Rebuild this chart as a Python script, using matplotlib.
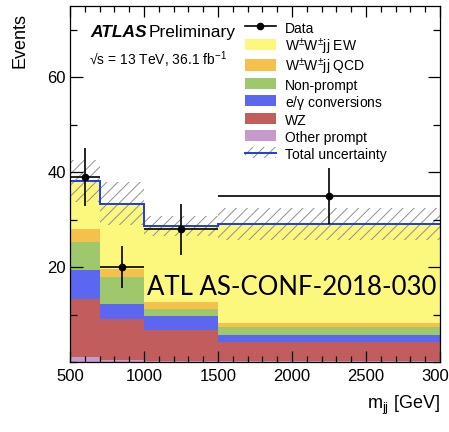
import numpy as np
import matplotlib
matplotlib.use('Agg')
import matplotlib.pyplot as plt
from matplotlib.patches import Patch, Rectangle
from matplotlib.lines import Line2D
from matplotlib.legend_handler import HandlerPatch
from matplotlib.ticker import MultipleLocator

plt.rcParams['font.family'] = ['Liberation Sans', 'DejaVu Sans']
plt.rcParams['mathtext.default'] = 'regular'
plt.rcParams['hatch.linewidth'] = 0.7

# m_jj bin edges [GeV]
edges = [500, 700, 1000, 1500, 3000]

# stacked backgrounds / signal, events per bin (bottom -> top)
other_prompt = [1.1, 0.6, 0.4, 0.3]
wz = [12.3, 8.6, 6.4, 4.0]
conversions = [6.0, 3.2, 2.9, 1.5]
non_prompt = [6.0, 5.5, 1.6, 1.6]
ssww_qcd = [2.7, 1.8, 1.4, 0.8]
ssww_ew = [10.1, 13.7, 16.0, 20.9]
total_unc = [4.5, 4.5, 2.1, 3.3]

# data
data_x = [600, 850, 1250, 2250]
data_y = [39, 20, 28, 35]
data_err = [6.1, 4.4, 5.3, 5.9]

components = [
    (other_prompt, '#c69bcb', 'Other prompt'),
    (wz, '#c25d5d', 'WZ'),
    (conversions, '#5b67f0', r'e/$\gamma$ conversions'),
    (non_prompt, '#9fc86c', 'Non-prompt'),
    (ssww_qcd, '#f5c14c', r'W$^{\pm}$W$^{\pm}$jj QCD'),
    (ssww_ew, '#fcf77d', r'W$^{\pm}$W$^{\pm}$jj EW'),
]


# legend boxes shorter than the row, centred like the line handles
def small_box(legend, orig_handle, xdescent, ydescent, width, height, fontsize):
    c = (height - ydescent) / 2
    half = 0.42 * fontsize
    return Rectangle((-xdescent, c - half), width, 2 * half)


fig = plt.figure(figsize=(4.49, 4.32), dpi=100)
ax = fig.add_axes([0.156, 0.161, 0.824, 0.825])

bottom = np.zeros(len(data_y))
for vals, col, lab in components:
    top = bottom + np.array(vals)
    ax.stairs(top, edges, baseline=bottom, fill=True, color=col, lw=0)
    bottom = top

total = bottom
unc = np.array(total_unc)
ax.stairs(total + unc, edges, baseline=total - unc, fill=True, facecolor='none',
          edgecolor='#909090', hatch='///', lw=0)
ax.stairs(total, edges, baseline=None, color='#1f3be0', lw=1.4)

xerr = [np.array(data_x) - np.array(edges[:-1]), np.array(edges[1:]) - np.array(data_x)]
ax.errorbar(data_x, data_y, xerr=xerr, yerr=data_err, fmt='o', color='black',
            ms=4.5, elinewidth=1.2, capsize=0)

ax.set_xlim(500, 3000)
ax.set_ylim(0, 75)
ax.xaxis.set_major_locator(MultipleLocator(500))
ax.xaxis.set_minor_locator(MultipleLocator(100))
ax.set_yticks([20, 40, 60])
ax.yaxis.set_minor_locator(MultipleLocator(10))
ax.tick_params(which='both', direction='in', top=True, right=True, labelsize=12, width=0.9)
ax.tick_params(axis='x', which='major', length=8, pad=5)
ax.tick_params(axis='x', which='minor', length=4)
ax.tick_params(axis='y', which='major', length=9, pad=3)
ax.tick_params(axis='y', which='minor', length=4.8)
for s in ax.spines.values():
    s.set_linewidth(0.9)

ax.set_ylabel('Events', fontsize=13, loc='top')
ax.yaxis.set_label_coords(-0.112, 0.98)
ax.set_xlabel(r'm$_{jj}$ [GeV]', fontsize=13, loc='right')
ax.xaxis.set_label_coords(1.0, -0.088)

ax.text(0.054, 0.927, 'ATLAS', transform=ax.transAxes, fontsize=12.5,
        fontweight='bold', fontstyle='italic', va='center')
ax.text(0.212, 0.927, 'Preliminary', transform=ax.transAxes, fontsize=12.5, va='center')
ax.text(0.051, 0.849, '\u221as = 13 TeV, 36.1 fb$^{-1}$', transform=ax.transAxes,
        fontsize=10, va='center')

handles = [Line2D([], [], color='black', marker='o', ms=4.5, lw=1.2)]
labels = ['Data']
for vals, col, lab in components[::-1]:
    handles.append(Patch(facecolor=col, edgecolor='none'))
    labels.append(lab)
handles.append((Patch(facecolor='none', edgecolor='#909090', hatch='///', lw=0),
                Line2D([], [], color='#1f3be0', lw=1.4)))
labels.append('Total uncertainty')
ax.legend(handles, labels, loc='upper left', bbox_to_anchor=(0.473, 0.962),
          frameon=False, fontsize=10, handlelength=2.2, handleheight=1.5,
          labelspacing=0.0, handletextpad=0.7, borderpad=0, borderaxespad=0,
          handler_map={Patch: HandlerPatch(patch_func=small_box)})

fig.text(0.327, 0.317, 'ATL AS-CONF-2018-030', fontsize=18.5, family='Lato',
         va='baseline', ha='left')

fig.savefig('out.png', dpi=100)
